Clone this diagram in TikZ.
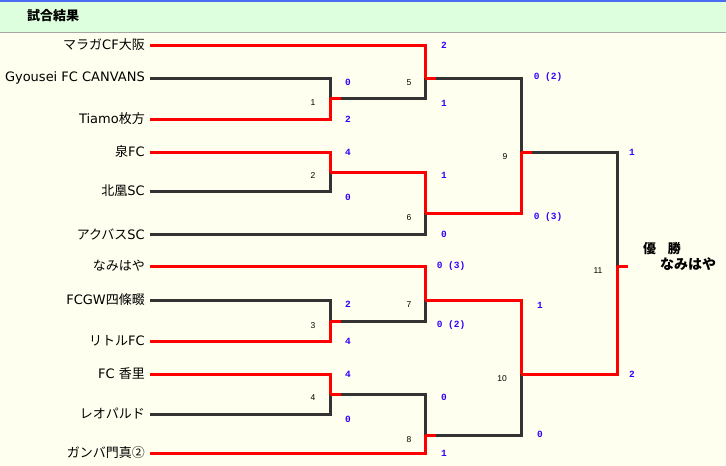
\documentclass[tikz,border=0pt]{standalone}
\usepackage{fontspec}
\newfontfamily\jpfont{Noto Sans CJK JP}
\newfontfamily\latfont{DejaVu Sans}
\newfontfamily\monofont{Liberation Mono}
\newfontfamily\numfont{Liberation Sans}
\newcommand\rp[1]{{\latfont\fontsize{13}{15}\selectfont #1}}
\definecolor{paper}{HTML}{FFFFF0}
\definecolor{band}{HTML}{DDFFDD}
\definecolor{rule}{HTML}{4A6CF0}
\definecolor{lost}{HTML}{333333}
\definecolor{won}{HTML}{FF0000}
\definecolor{pts}{HTML}{3300FF}
\tikzset{
  team/.style={anchor=east, inner sep=0pt, font=\jpfont\fontsize{13}{15}\selectfont},
  lostline/.style={draw=lost, line width=3pt},
  wonline/.style={draw=won, line width=3pt},
  score/.style={inner sep=0pt, text=pts, font=\monofont\bfseries\fontsize{9.5}{11}\selectfont},
  game/.style={inner sep=0pt, font=\numfont\fontsize{8.5}{10}\selectfont},
  title/.style={inner sep=0pt, font=\jpfont\bfseries\fontsize{13}{15}\selectfont}
}
\begin{document}
\begin{tikzpicture}[x=1pt, y=-1pt]
    \useasboundingbox (0,0) rectangle (726,466);
    \fill[paper] (0,0) rectangle (726,466);
    \fill[band] (0,0) rectangle (726,32);
    \draw[rule, line width=2pt] (0,1) -- (726,1);
    \draw[gray!70, line width=1pt] (0,32.5) -- (726,32.5);
    \node[title, anchor=west] (head) at (27,16) {試合結果};
    \foreach \y [count=\i] in {45,78,119,152,191,234,266,300,341,374,414,453}
        \coordinate (a\i) at (150,\y);
    \foreach \n/\x/\y in {1/330/98, 2/330/172, 3/330/321, 4/330/394, 5/425/78, 6/425/213,
                          7/425/300, 8/425/435, 9/521/152, 10/521/374, 11/617/266}
        \coordinate (m\n) at (\x,\y);
    \coordinate (champ) at (628,266);
    \foreach \i/\t in {1/マラガ\rp{CF}大阪, 2/\rp{Gyousei FC CANVANS}, 3/\rp{Tiamo}枚方,
                       4/泉\rp{FC}, 5/北凰\rp{SC}, 6/アクバス\rp{SC}, 7/なみはや,
                       8/\rp{FCGW}四條畷, 9/リトル\rp{FC}, 10/\rp{FC\ }香里,
                       11/レオパルド, 12/ガンバ門真②}
        \node[team] (t\i) at ([xshift=-5pt]a\i) {\t};
    \foreach \s/\j in {a2/m1, a5/m2, a8/m3, a11/m4, m1/m5, a6/m6, m3/m7, m4/m8, m5/m9, m8/m10, m9/m11}
        \draw[lostline] (\s) -| (\j);
    \foreach \s/\j in {a3/m1, a4/m2, a9/m3, a10/m4, a1/m5, m2/m6, a7/m7, a12/m8, m6/m9, m7/m10, m10/m11}
        \draw[wonline] (\s) -| (\j);
    \foreach \j in {m1,m2,m3,m4,m5,m6,m7,m8,m9,m10}
        \draw[wonline] (\j) -- ++(11,0);
    \draw[wonline] (m11) -- (champ);
    \foreach \n/\x/\y in {1/313/103, 2/313/176, 3/313/326, 4/313/398, 5/409/83, 6/409/218,
                          7/409/305, 8/409/440, 9/505/157, 10/502/379, 11/598/271}
        \node[game] (g\n) at (\x,\y) {\n};
    \foreach \x/\y/\s [count=\k] in {348/82/0, 348/119/2, 348/152/4, 348/197/0, 348/304/2, 348/341/4,
                          348/374/4, 348/419/0, 444/45/2, 444/103/1, 444/175/1, 444/234/0,
                          451/266/0 (3), 451/325/0 (2), 444/397/0, 444/453/1,
                          548/77/0 (2), 548/217/0 (3), 540/305/1, 540/434/0, 632/152/1, 632/374/2}
        \node[score] (p\k) at (\x,\y) {\s};
    \node[title, anchor=west] (cup) at (643,249) {優\hspace{0.9em}勝};
    \node[title, anchor=west, font=\jpfont\bfseries\fontsize{14}{16}\selectfont] (winner) at (660,264) {なみはや};
\end{tikzpicture}
\end{document}
